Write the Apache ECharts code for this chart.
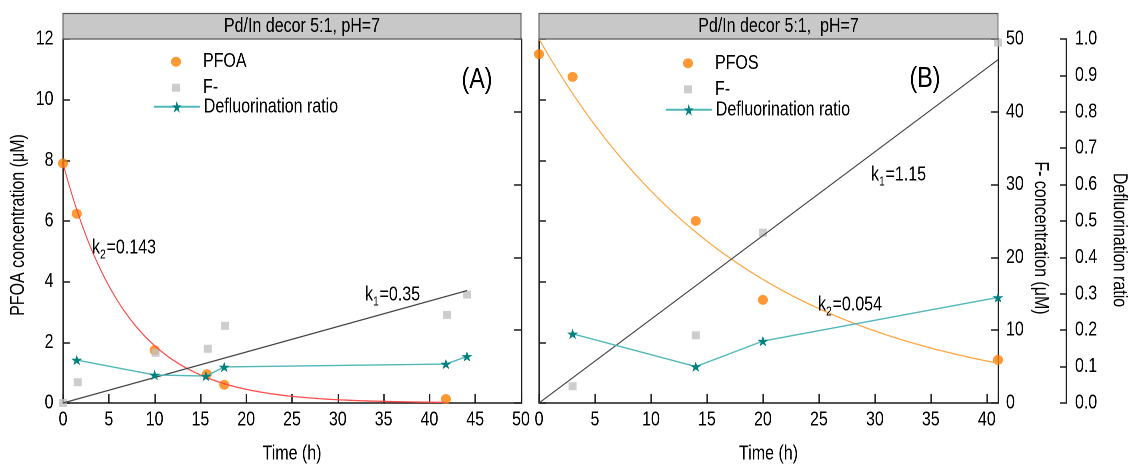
<!DOCTYPE html>
<html>
<head>
<meta charset="utf-8">
<script src="https://cdn.jsdelivr.net/npm/echarts@6/dist/echarts.min.js"></script>
<style>
  html, body { margin: 0; padding: 0; background: #fff; overflow: hidden; }
  #frame { width: 1128px; height: 469px; overflow: hidden; }
  /* The figure uses a condensed sans face: the canvas is laid out wider
     and squeezed horizontally so every glyph comes out narrow. */
  #chart { width: 1410px; height: 469px; transform: scaleX(0.8); transform-origin: 0 0; }
</style>
</head>
<body>
<div id="frame"><div id="chart"></div></div>
<script>
// ---- Panel A: PFOA ----
const pfoaTime = [0, 1.5, 10, 15.7, 17.6, 41.8];
const pfoaConc = [7.9, 6.24, 1.74, 0.95, 0.6, 0.13];          // µM
const fluorideATime = [0, 1.6, 10.1, 15.8, 17.7, 41.9, 44.1];
const fluorideAConc = [0, 2.85, 6.9, 7.45, 10.6, 12.1, 14.9];   // µM
const ratioATime = [1.5, 10, 15.6, 17.6, 41.8, 44.1];
const ratioAValue = [0.118, 0.077, 0.074, 0.099, 0.107, 0.128];

// ---- Panel B: PFOS ----
const pfosTime = [0, 3, 14, 20, 41];
const pfosConc = [11.5, 10.75, 6.0, 3.4, 1.42];                 // µM
const fluorideBTime = [3, 14, 20, 41];
const fluorideBConc = [2.3, 9.3, 23.4, 49.5];                   // µM
const ratioBTime = [3, 14, 20, 41];
const ratioBValue = [0.19, 0.10, 0.17, 0.29];

// Kinetic fits: first-order decay of the parent compound (k2),
// zero-order fluoride release (k1)
const pfoaFit = { c0: 7.9, k2: 0.143, tEnd: 41.8 };
const pfosFit = { c0: 12, k2: 0.054, tEnd: 41 };
const fluorideAFit = { k1: 0.35, tEnd: 44.1 };
const fluorideBFit = { k1: 1.15, tEnd: 41 };

const xTicksA = { min: 0, max: 50, interval: 5 };
const xTicksB = { min: 0, max: 41, interval: 5 };

// horizontal squeeze applied to the canvas by CSS
const SQUEEZE = 0.8;
const P = x => x / SQUEEZE;   // screen x -> canvas x

const FONT = "'Liberation Sans',Arial,sans-serif";
const INK = '#000';
const ORANGE = '#ff8000';
const GREY = '#c0c0c0';
const TEAL_DARK = '#00807f';
const TEAL_LINE = '#50b8b8';
// symbols are pre-widened so they come out round/square after the squeeze
const DOT = 'path://M0 4 A5 4 0 1 0 10 4 A5 4 0 1 0 0 4 Z';
const SQUARE = 'path://M0 0 L10 0 L10 8 L0 8 Z';
const STAR = 'path://M62.5 0 L76.5 34.5 L122 34.5 L85.25 55.9 L99.25 90.5 L62.5 69.1 L25.75 90.5 L39.75 55.9 L3 34.5 L48.5 34.5 Z';

const zip = (xs, ys) => xs.map((x, i) => [x, ys[i]]);
function decayCurve(fit, steps) {
  const pts = [];
  for (let i = 0; i <= steps; i++) {
    const t = fit.tEnd * i / steps;
    pts.push([t, fit.c0 * Math.exp(-fit.k2 * t)]);
  }
  return pts;
}
const linearRelease = fit => [[0, 0], [fit.tEnd, fit.k1 * fit.tEnd]];

const hLine = { color: '#1a1a1a', width: 1.5 };
const vLine = { color: '#1a1a1a', width: 1.8 };
const labelStyle = { fontSize: 20, color: INK, fontFamily: FONT };

function xAxis(grid, ticks) {
  return {
    type: 'value', gridIndex: grid, min: ticks.min, max: ticks.max, interval: ticks.interval,
    axisLine: { show: true, onZero: false, lineStyle: hLine },
    axisTick: { show: true, inside: true, length: 9, lineStyle: vLine },
    axisLabel: Object.assign({ margin: 7, formatter: v => (v % ticks.interval === 0 ? String(v) : '') }, labelStyle),
    splitLine: { show: false },
    name: 'Time (h)', nameLocation: 'middle', nameGap: 41,
    nameTextStyle: labelStyle
  };
}
function yAxis(grid, pos, min, max, interval, opts) {
  return Object.assign({
    type: 'value', gridIndex: grid, position: pos, min, max, interval,
    axisLine: { show: true, onZero: false, lineStyle: vLine },
    axisTick: { show: true, inside: true, length: P(7), lineStyle: hLine },
    axisLabel: Object.assign({ margin: P(9.5) }, labelStyle),
    splitLine: { show: false }
  }, opts || {});
}

const scatter = (name, x, y, data, symbol, size, color) => ({
  name, type: 'scatter', xAxisIndex: x, yAxisIndex: y, data,
  symbol, symbolSize: size, symbolKeepAspect: true, itemStyle: { color },
  emphasis: { disabled: true }, silent: true
});
const fitLine = (x, y, data, color) => ({
  type: 'line', xAxisIndex: x, yAxisIndex: y, data, showSymbol: false, symbol: 'none',
  lineStyle: { color, width: 1.3 }, emphasis: { disabled: true }, silent: true
});
const ratioLine = (x, y, data) => ({
  name: 'Defluorination ratio', type: 'line', xAxisIndex: x, yAxisIndex: y, data,
  symbol: STAR, symbolSize: P(11), symbolKeepAspect: true,
  itemStyle: { color: TEAL_DARK }, lineStyle: { color: TEAL_LINE, width: 1.4 },
  emphasis: { disabled: true }, silent: true
});

// legend rows: `iconX` is the screen x of the marker's centre
function legendRow(name, iconX, centerY, itemHeight, markerWidth, lineWidth) {
  const iconW = lineWidth ? P(lineWidth) : markerWidth;
  return {
    data: [name], left: P(iconX) - iconW / 2, top: centerY - itemHeight / 2,
    orient: 'vertical', padding: 0,
    itemWidth: lineWidth ? P(lineWidth) : P(46), itemHeight, itemGap: 0,
    selectedMode: false, symbolKeepAspect: true,
    textStyle: { fontSize: 20, color: INK, fontFamily: FONT }
  };
}

const txt = (text, size, align) => ({
  text, font: size + 'px ' + FONT, fill: INK,
  textAlign: align, textVerticalAlign: 'middle', align, verticalAlign: 'middle'
});
function header(x0, x1, text) {
  return [
    { type: 'rect', shape: { x: P(x0), y: 13.5, width: P(x1 - x0), height: 25.5 },
      style: { fill: '#c8c8c8', stroke: '#5a5a5a', lineWidth: 1.2 }, z: 10, silent: true },
    { type: 'text', x: P((x0 + x1) / 2 + 10), y: 26.5, z: 11, silent: true, style: txt(text, 20, 'center') }
  ];
}
function rateLabel(x, y, sub, val) {
  return {
    type: 'text', x: P(x), y, z: 11, silent: true,
    style: {
      text: '{m|k}{s|' + sub + '}{m|=' + val + '}',
      textAlign: 'left', textVerticalAlign: 'middle', align: 'left', verticalAlign: 'middle',
      rich: {
        m: { font: '20px ' + FONT, fill: INK, lineHeight: 20 },
        s: { font: '13px ' + FONT, fill: INK, lineHeight: 13, padding: [14, 1, 0, 0] }
      }
    }
  };
}
const panelTag = (x, y, text) => ({ type: 'text', x: P(x), y, z: 11, silent: true, style: txt(text, 29, 'center') });
// rotated axis titles: squeezed along the reading direction, restored across it
function sideTitle(x, y, text, up) {
  return { type: 'text', x: P(x), y, rotation: up ? Math.PI / 2 : -Math.PI / 2,
    scaleX: SQUEEZE, scaleY: 1 / SQUEEZE, z: 11, silent: true, style: txt(text, 20, 'center') };
}

const option = {
  animation: false,
  backgroundColor: '#fff',
  textStyle: { fontFamily: FONT },
  grid: [
    { left: P(63), top: 39, width: P(458), height: 369 },
    { left: P(539), top: 39, width: P(459), height: 369 }
  ],
  xAxis: [xAxis(0, xTicksA), xAxis(1, xTicksB)],
  yAxis: [
    yAxis(0, 'left', 0, 12, 2),
    yAxis(0, 'right', 0, 50, 10, { axisLabel: { show: false } }),
    yAxis(0, 'right', 0, 1, 0.1, { show: false }),
    yAxis(1, 'left', 0, 12, 2, { axisLabel: { show: false } }),
    yAxis(1, 'right', 0, 50, 10, { axisLabel: Object.assign({ margin: P(8) }, labelStyle) }),
    yAxis(1, 'right', 0, 1, 0.1, {
      offset: P(68),
      axisTick: { show: true, inside: true, length: P(6), lineStyle: hLine },
      axisLabel: Object.assign({ margin: P(9), formatter: v => v.toFixed(1) }, labelStyle)
    })
  ],
  legend: [
    legendRow('PFOA', 176, 56.7, 10, 12.5),
    legendRow('F-', 176, 81.7, 8, 10),
    legendRow('Defluorination ratio', 176, 104.3, 15, 0, 46),
    legendRow('PFOS', 688, 58.3, 10, 12.5),
    legendRow('F-', 688, 83.3, 8, 10),
    legendRow('Defluorination ratio', 688, 107.3, 15, 0, 46)
  ],
  series: [
    // panel A
    fitLine(0, 0, decayCurve(pfoaFit, 160), '#ff4a4a'),
    fitLine(0, 1, linearRelease(fluorideAFit), '#454545'),
    scatter('PFOA', 0, 0, zip(pfoaTime, pfoaConc), DOT, P(10), ORANGE),
    scatter('F-', 0, 1, zip(fluorideATime, fluorideAConc), SQUARE, P(8), GREY),
    ratioLine(0, 2, zip(ratioATime, ratioAValue)),
    // panel B
    fitLine(1, 3, decayCurve(pfosFit, 160), '#ffa640'),
    fitLine(1, 4, linearRelease(fluorideBFit), '#454545'),
    scatter('PFOS', 1, 3, zip(pfosTime, pfosConc), DOT, P(10), ORANGE),
    scatter('F-', 1, 4, zip(fluorideBTime, fluorideBConc), SQUARE, P(8), GREY),
    ratioLine(1, 5, zip(ratioBTime, ratioBValue))
  ],
  graphic: [
    ...header(63, 521, 'Pd/In decor 5:1, pH=7'),
    ...header(539, 998, 'Pd/In decor 5:1,  pH=7'),
    panelTag(477, 80, '(A)'),
    panelTag(925, 79, '(B)'),
    rateLabel(92, 248, '2', '0.143'),
    rateLabel(365, 295, '1', '0.35'),
    rateLabel(871, 175, '1', '1.15'),
    rateLabel(818, 305, '2', '0.054'),
    sideTitle(18.5, 225, 'PFOA concentration (\u03bcM)', true),
    sideTitle(1040.5, 238, 'F- concentration (\u03bcM)', false),
    sideTitle(1119, 240, 'Defluorination ratio', false)
  ]
};

const chart = echarts.init(document.getElementById('chart'), null, { renderer: 'canvas', devicePixelRatio: 2 });
chart.setOption(option);
</script>
</body>
</html>
